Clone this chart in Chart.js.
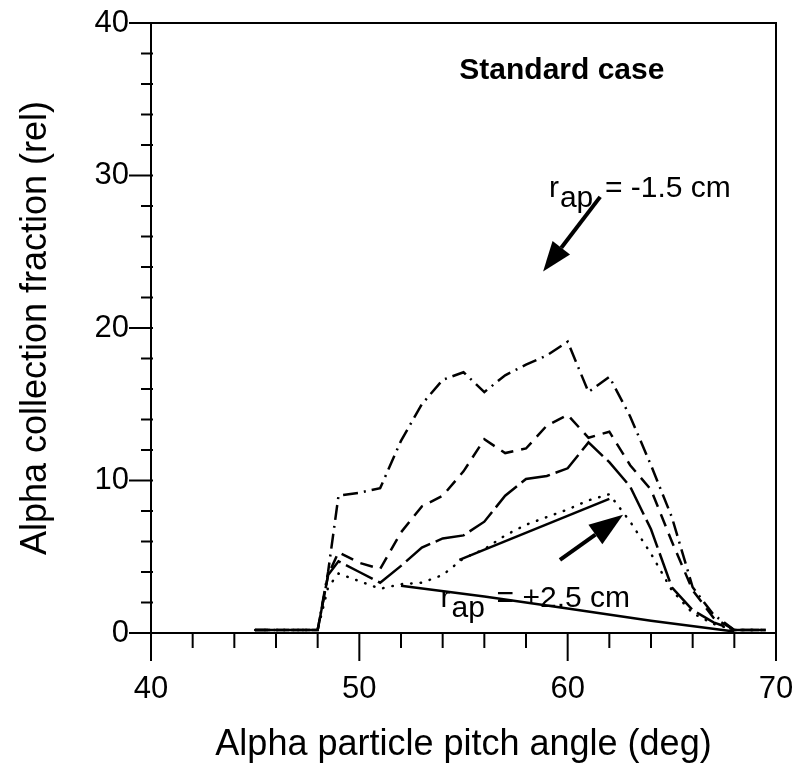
<!DOCTYPE html>
<html>
<head>
<meta charset="utf-8">
<script src="https://cdn.jsdelivr.net/npm/chart.js@4"></script>
<style>
  html, body { margin: 0; padding: 0; background: #fff; }
  canvas { display: block; }
</style>
</head>
<body>
<canvas id="myChart" width="805" height="772"></canvas>
<script>
// pitch angle (deg)
const angulos = [45, 46, 47, 48, 48.5, 49, 50, 51, 52, 53, 54, 55, 56, 57, 58, 59, 60, 61, 62, 63, 64, 65, 66, 67, 68, 69, 69.5];

// collection fraction (rel) for each curve
const serieDashDot = [0.2, 0.2, 0.2, 0.2, 4.0, 9.0, 9.2, 9.5, 12.6, 15.0, 16.6, 17.1, 15.8, 16.9, 17.6, 18.2, 19.1, 15.8, 16.8, 14.2, 11.0, 7.6, 3.0, 1.2, 0.2, 0.2, 0.2];
const serieDashed = [0.2, 0.2, 0.2, 0.2, 3.8, 5.3, 4.6, 4.2, 6.6, 8.3, 9.0, 10.6, 12.7, 11.8, 12.1, 13.6, 14.3, 12.8, 13.2, 11.0, 9.4, 6.0, 2.8, 1.0, 0.2, 0.2, 0.2];
const serieLongDash = [0.2, 0.2, 0.2, 0.2, 3.8, 4.7, 4.0, 3.3, 4.4, 5.6, 6.2, 6.4, 7.3, 9.0, 10.1, 10.3, 10.8, 12.5, 11.2, 9.6, 6.8, 3.0, 1.5, 0.7, 0.2, 0.2, 0.2];
const serieDotted = [0.2, 0.2, 0.2, 0.2, 3.0, 3.9, 3.4, 2.9, 3.2, 3.3, 3.8, 4.9, 5.5, 6.4, 7.1, 7.6, 8.1, 8.7, 9.1, 7.3, 5.2, 2.8, 1.3, 0.6, 0.2, 0.2, 0.2];

// the two solid segments
const angulosSolida = [52, 56, 60, 64, 68];
const serieSolida = [3.1, 2.4, 1.6, 0.8, 0.1];
const angulosRecta = [54.8, 62];
const serieRecta = [4.8, 8.8];

const ticksX = [40, 50, 60, 70];
const ticksY = [0, 10, 20, 30, 40];

function puntos(xs, ys) {
  return xs.map((x, i) => ({ x: x, y: ys[i] }));
}

function linea(data, dash, cap) {
  return {
    data: data,
    borderColor: "#000",
    borderWidth: 2.5,
    borderDash: dash,
    borderCapStyle: cap || "butt",
    pointRadius: 0,
    tension: 0,
    fill: false,
  };
}

function flecha(ctx, x1, y1, x2, y2, largo, ancho) {
  const ang = Math.atan2(y2 - y1, x2 - x1);
  const bx = x2 - largo * Math.cos(ang);
  const by = y2 - largo * Math.sin(ang);
  ctx.lineWidth = 4;
  ctx.beginPath();
  ctx.moveTo(x1, y1);
  ctx.lineTo(bx, by);
  ctx.stroke();
  ctx.beginPath();
  ctx.moveTo(x2, y2);
  ctx.lineTo(bx + (ancho / 2) * Math.sin(ang), by - (ancho / 2) * Math.cos(ang));
  ctx.lineTo(bx - (ancho / 2) * Math.sin(ang), by + (ancho / 2) * Math.cos(ang));
  ctx.closePath();
  ctx.fill();
}

function etiquetaR(ctx, x, y, resto) {
  ctx.font = "30px 'Liberation Sans'";
  ctx.textAlign = "left";
  ctx.textBaseline = "alphabetic";
  ctx.fillText("r", x, y);
  ctx.fillText("ap", x + 11, y + 10);
  ctx.fillText(resto, x + 56, y);
}

const marcoPlugin = {
  id: "marco",
  afterDraw(chart) {
    const { ctx, chartArea: a, scales } = chart;
    const x = scales.x;
    const y = scales.y;
    ctx.save();
    ctx.strokeStyle = "#000";
    ctx.fillStyle = "#000";
    ctx.lineWidth = 2;
    ctx.beginPath();
    ctx.moveTo(a.left, a.bottom);
    ctx.lineTo(a.left, a.top);
    ctx.lineTo(a.right, a.top);
    ctx.lineTo(a.right, a.bottom);
    ctx.closePath();
    ctx.stroke();

    x.ticks.forEach((t) => {
      const px = x.getPixelForValue(t.value);
      const largo = ticksX.includes(t.value) ? 28 : 15;
      ctx.beginPath();
      ctx.moveTo(px, a.bottom);
      ctx.lineTo(px, a.bottom + largo);
      ctx.stroke();
    });
    y.ticks.forEach((t) => {
      const py = y.getPixelForValue(t.value);
      const largo = ticksY.includes(t.value) ? 22 : 10;
      ctx.beginPath();
      ctx.moveTo(a.left - largo, py);
      ctx.lineTo(a.left + 2, py);
      ctx.stroke();
    });

    // textos
    ctx.font = "bold 30px 'Liberation Sans'";
    ctx.textAlign = "left";
    ctx.fillText("Standard case", x.getPixelForValue(54.8), y.getPixelForValue(36.3));
    etiquetaR(ctx, x.getPixelForValue(59.1), y.getPixelForValue(28.6), "= -1.5 cm");
    etiquetaR(ctx, x.getPixelForValue(53.9), y.getPixelForValue(1.7), "= +2.5 cm");

    // flechas
    flecha(ctx, x.getPixelForValue(61.56), y.getPixelForValue(28.6), x.getPixelForValue(58.82), y.getPixelForValue(23.7), 30, 22);
    flecha(ctx, x.getPixelForValue(59.63), y.getPixelForValue(4.8), x.getPixelForValue(62.66), y.getPixelForValue(7.75), 34, 24);
    ctx.restore();
  },
};

Chart.defaults.font.family = "'Liberation Sans', Arial, sans-serif";
Chart.defaults.color = "#000";

const config = {
  type: "line",
  data: {
    datasets: [
      linea(puntos(angulos, serieDashDot), [15, 6, 2, 6]),
      linea(puntos(angulos, serieDashed), [13, 8]),
      linea(puntos(angulos, serieLongDash), [30, 6]),
      linea(puntos(angulos, serieDotted), [0.5, 9], "round"),
      linea(puntos(angulosSolida, serieSolida), []),
      linea(puntos(angulosRecta, serieRecta), []),
    ],
  },
  options: {
    responsive: false,
    animation: false,
    devicePixelRatio: 1,
    layout: { padding: { top: 23, right: 29, left: 0, bottom: 0 } },
    plugins: { legend: { display: false }, tooltip: { enabled: false } },
    scales: {
      x: {
        type: "linear",
        min: 40,
        max: 70,
        afterFit: (s) => {
          s.height = 139;
          s.paddingLeft = 0;
          s.paddingRight = 0;
        },
        grid: { display: false, drawTicks: false },
        border: { display: false },
        ticks: {
          stepSize: 2,
          padding: 38,
          font: { size: 31 },
          maxRotation: 0,
          autoSkip: false,
          callback: (v) => (ticksX.includes(v) ? v : ""),
        },
        title: {
          display: true,
          text: "Alpha particle pitch angle (deg)",
          font: { size: 36 },
          padding: { top: 0, bottom: 5 },
        },
      },
      y: {
        min: 0,
        max: 40,
        afterFit: (s) => {
          s.width = 151;
          s.paddingTop = 0;
          s.paddingBottom = 0;
        },
        grid: { display: false, drawTicks: false },
        border: { display: false },
        ticks: {
          stepSize: 2,
          padding: 22,
          font: { size: 31 },
          autoSkip: false,
          callback: (v) => (ticksY.includes(v) ? v : ""),
        },
        title: {
          display: true,
          text: "Alpha collection fraction (rel)",
          font: { size: 36 },
          padding: { top: 14, bottom: 0 },
        },
      },
    },
  },
  plugins: [marcoPlugin],
};

const myChart = new Chart(document.getElementById("myChart"), config);
</script>
</body>
</html>
